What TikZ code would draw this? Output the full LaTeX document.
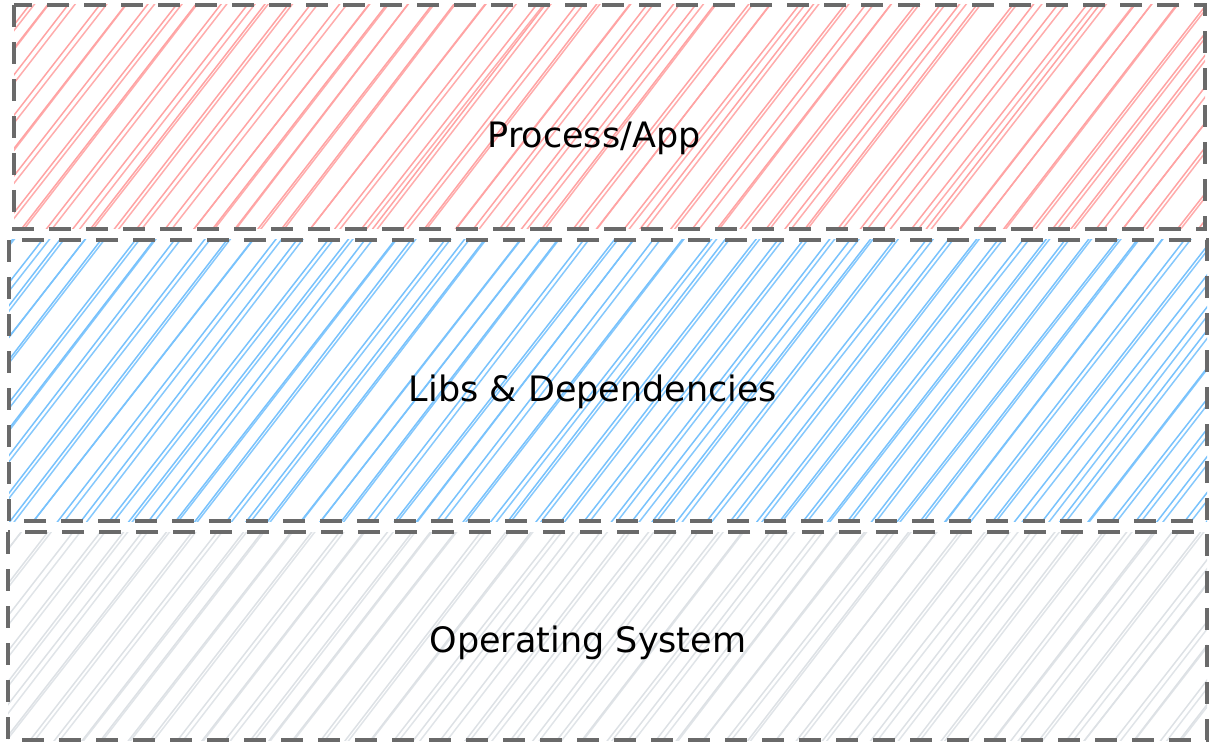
\documentclass[tikz,border=0pt]{standalone}
\usepackage{fontspec}
\setmainfont{DejaVu Sans}
\definecolor{hatchred}{HTML}{FFA3A3}
\definecolor{hatchblue}{HTML}{78C2FC}
\definecolor{hatchgray}{HTML}{DDE1E5}
\definecolor{edgegray}{HTML}{6A6A6A}
\newcommand\hatchfill[2]{%
  \begin{scope}
    \clip (#1.north west) rectangle (#1.south east);
    \foreach \hx in {-760,-736,...,1230}{
      \pgfmathsetmacro\hxa{\hx+4*rand}
      \pgfmathsetmacro\hxb{\hxa+4+4*rand}
      \pgfmathsetmacro\hxc{\hxa+790+8*rand}
      \pgfmathsetmacro\hxd{\hxc+4+6*rand}
      \draw[hatch, draw=#2] (\hxa pt,-770pt) -- (\hxc pt,250pt);
      \draw[hatch, draw=#2, draw opacity=0.9] (\hxb pt,-770pt) -- (\hxd pt,250pt);
    }
  \end{scope}}
\begin{document}
\begin{tikzpicture}[x=1pt,y=-1pt,
  layerbox/.style={rectangle, inner sep=0pt, outer sep=0pt},
  layeredge/.style={draw=edgegray, line width=3.8pt, dash pattern=on 22pt off 15pt},
  hatch/.style={line width=1.5pt, line cap=round},
  lbl/.style={font=\fontsize{35}{40}\selectfont, text=black}]
\useasboundingbox (0,0) rectangle (1215,751);
\pgfmathsetseed{11}
% layer areas
\node[layerbox, minimum width=1191pt, minimum height=224pt] (app) at (609.5,117) {};
\node[layerbox, minimum width=1198pt, minimum height=281pt] (libs) at (608,380.5) {};
\node[layerbox, minimum width=1199pt, minimum height=208pt] (os) at (607.5,636) {};
% hachure fills
\hatchfill{app}{hatchred}
\hatchfill{libs}{hatchblue}
\hatchfill{os}{hatchgray}
% dashed borders
\draw[layeredge] (app.north west) rectangle (app.south east);
\draw[layeredge] (libs.north west) rectangle (libs.south east);
\draw[layeredge] (os.north west) rectangle (os.south east);
% labels
\node[lbl] (appt) at (594,138) {Process/App};
\node[lbl] (libst) at (593,392) {Libs \& Dependencies};
\node[lbl] (ost) at (588,643) {Operating System};
\end{tikzpicture}
\end{document}
